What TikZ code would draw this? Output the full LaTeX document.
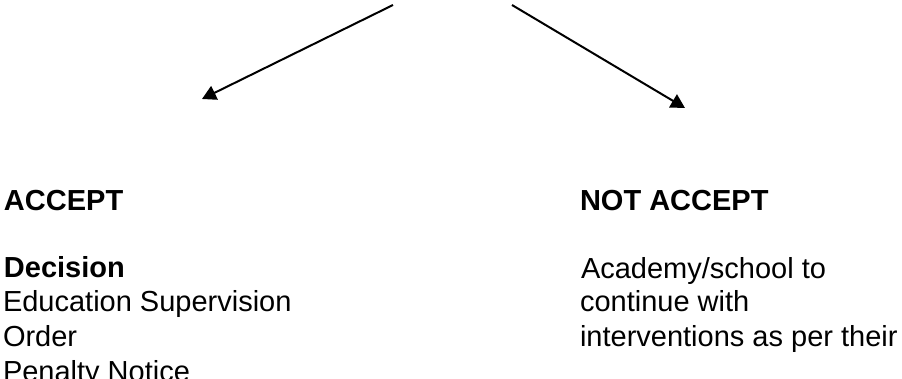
\documentclass[tikz,border=0pt]{standalone}
\usepackage{fontspec}
\setmainfont{Liberation Sans}
\usetikzlibrary{arrows.meta}
\tikzset{
  txt/.style={anchor=base west, inner sep=0pt, outer sep=0pt, font=\fontsize{29}{34}\selectfont},
  hd/.style={txt, font=\fontsize{29}{34}\selectfont\bfseries},
  arr/.style={line width=2pt, -{Triangle[length=14pt,width=15pt]}}
}
\begin{document}
\begin{tikzpicture}[x=1pt,y=-1pt]
\useasboundingbox (0,0) rectangle (902,379);
\clip (0,0) rectangle (902,379);
\coordinate (s1) at (393,5);
\coordinate (t1) at (202,99);
\coordinate (s2) at (512,5);
\coordinate (t2) at (685,108);
\draw[arr] (s1) -- (t1);
\draw[arr] (s2) -- (t2);
\node[hd] (acc) at (4,211) {ACCEPT};
\node[hd] (dec) at (4,278) {Decision};
\node[txt] (edu) at (3,312) {Education Supervision};
\node[txt] (ord) at (3,346) {Order};
\node[txt] (pen) at (3,381) {Penalty Notice};
\node[hd] (nacc) at (580,211) {NOT ACCEPT};
\node[txt] (l1) at (581,279) {Academy/school to};
\node[txt] (l2) at (580,312) {continue with};
\node[txt] (l3) at (580,346) {interventions as per their};
\end{tikzpicture}
\end{document}
